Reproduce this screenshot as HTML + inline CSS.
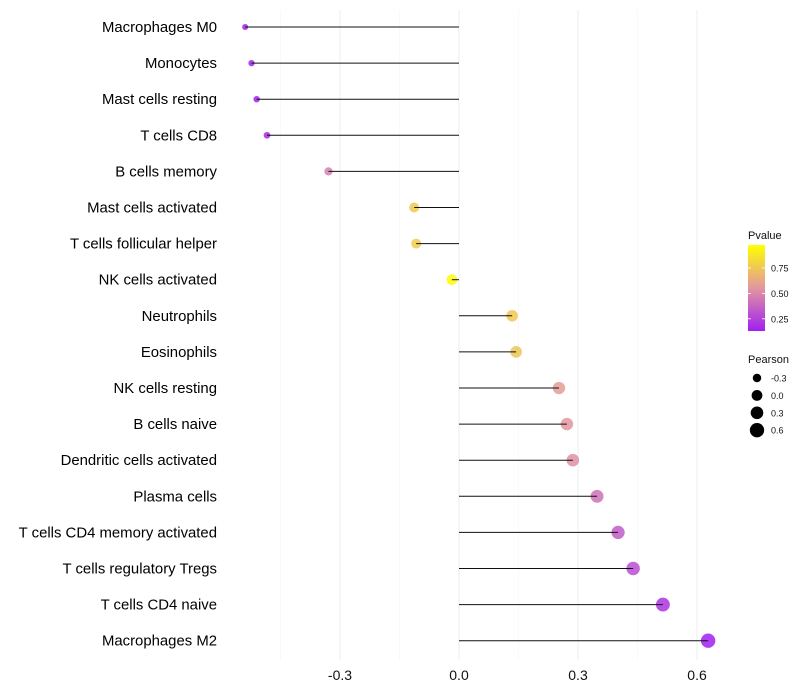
<!DOCTYPE html>
<html><head><meta charset="utf-8"><style>
body{margin:0;background:#fff;font-family:"Liberation Sans",sans-serif}
svg{display:block}
</style></head><body>
<svg id="chart" width="800" height="700"></svg>
<script>
const categories=["Macrophages M0","Monocytes","Mast cells resting","T cells CD8","B cells memory","Mast cells activated","T cells follicular helper","NK cells activated","Neutrophils","Eosinophils","NK cells resting","B cells naive","Dendritic cells activated","Plasma cells","T cells CD4 memory activated","T cells regulatory  Tregs ","T cells CD4 naive","Macrophages M2"];
const pearson=[-0.539,-0.523,-0.510,-0.484,-0.329,-0.113,-0.108,-0.018,0.134,0.144,0.252,0.272,0.287,0.348,0.401,0.439,0.514,0.628];
const pvalues=[0.08,0.10,0.12,0.16,0.47,0.76,0.77,0.96,0.76,0.74,0.58,0.56,0.53,0.42,0.34,0.29,0.20,0.06];
const xTicks=[-0.3,0.0,0.3,0.6];
const xTickLabels=["-0.3","0.0","0.3","0.6"];
const minorTicks=[-0.45,-0.15,0.15,0.45];
const pLegendTicks=[0.25,0.5,0.75];
const pLegendLabels=["0.25","0.50","0.75"];
const sizeLegend=[-0.3,0.0,0.3,0.6];
const sizeLegendLabels=["-0.3","0.0","0.3","0.6"];

const NS="http://www.w3.org/2000/svg";
const svg=document.getElementById('chart');
function el(t,a,p){const e=document.createElementNS(NS,t);for(const k in a)e.setAttribute(k,a[k]);(p||svg).appendChild(e);return e;}
const x=v=>459+v*396.7;
const y=i=>27+i*36.1;
const pMin=0.13,pMax=0.976;
function col(p){
  let t=Math.max(0,Math.min(1,(p-pMin)/(pMax-pMin)));
  const s=[[160,32,240],[226,150,160],[255,255,0]];
  let a,b,u; if(t<0.5){a=s[0];b=s[1];u=t/0.5;}else{a=s[1];b=s[2];u=(t-0.5)/0.5;}
  return `rgb(${a.map((c,i)=>Math.round(c+(b[i]-c)*u)).join(',')})`;
}
const r=v=>Math.sqrt(Math.max(5,29+36.7*v));

// grid
minorTicks.forEach(v=>{const g=el('line',{x1:x(v),x2:x(v),y1:10,y2:660,stroke:'#f5f5f5','stroke-width':0.6});

});
xTicks.forEach((v,i)=>{const g=el('line',{x1:x(v),x2:x(v),y1:10,y2:660,stroke:'#efefef','stroke-width':1.1});


const t=el('text',{x:x(v),y:680,'text-anchor':'middle','font-size':14,fill:'#111'});t.textContent=xTickLabels[i];

});

categories.forEach((c,i)=>{
  const t=el('text',{x:217,y:y(i)+5,'text-anchor':'end','font-size':14.9,fill:'#000'});t.textContent=c;
  
  
  const pt=el('circle',{cx:x(pearson[i]),cy:y(i),r:r(pearson[i]),fill:col(pvalues[i]),'fill-opacity':0.85});
  
  
  const ln=el('line',{x1:x(0),x2:x(pearson[i]),y1:y(i),y2:y(i),stroke:'#111','stroke-width':1});
  
  
});

// pvalue legend
const defs=el('defs',{});
const lg=el('linearGradient',{id:'pg',x1:0,y1:1,x2:0,y2:0},defs);
for(let k=0;k<=10;k++){const p=pMin+(pMax-pMin)*k/10;el('stop',{offset:k/10,'stop-color':col(p)},lg);}
const lt=el('text',{x:748,y:239,'font-size':11,fill:'#111'});lt.textContent='Pvalue';


const bar=el('rect',{x:748,y:245,width:17,height:86,fill:'url(#pg)'});


const py=p=>331-(p-pMin)/(pMax-pMin)*86;
pLegendTicks.forEach((p,i)=>{
  el('line',{x1:748,x2:751,y1:py(p),y2:py(p),stroke:'#fff','stroke-width':0.8});
  el('line',{x1:762,x2:765,y1:py(p),y2:py(p),stroke:'#fff','stroke-width':0.8});
  const t=el('text',{x:771,y:py(p)+3.5,'font-size':9,fill:'#111'});t.textContent=pLegendLabels[i];
  
  
});
const st=el('text',{x:748,y:363,'font-size':11,fill:'#111'});st.textContent='Pearson';


sizeLegend.forEach((v,i)=>{
  const cy=378+i*17.4;
  const c=el('circle',{cx:757,cy:cy,r:r(v),fill:'#000'});
  
  
  const t=el('text',{x:771,y:cy+3.5,'font-size':9,fill:'#111'});t.textContent=sizeLegendLabels[i];
  
  
});
</script>
</body></html>
